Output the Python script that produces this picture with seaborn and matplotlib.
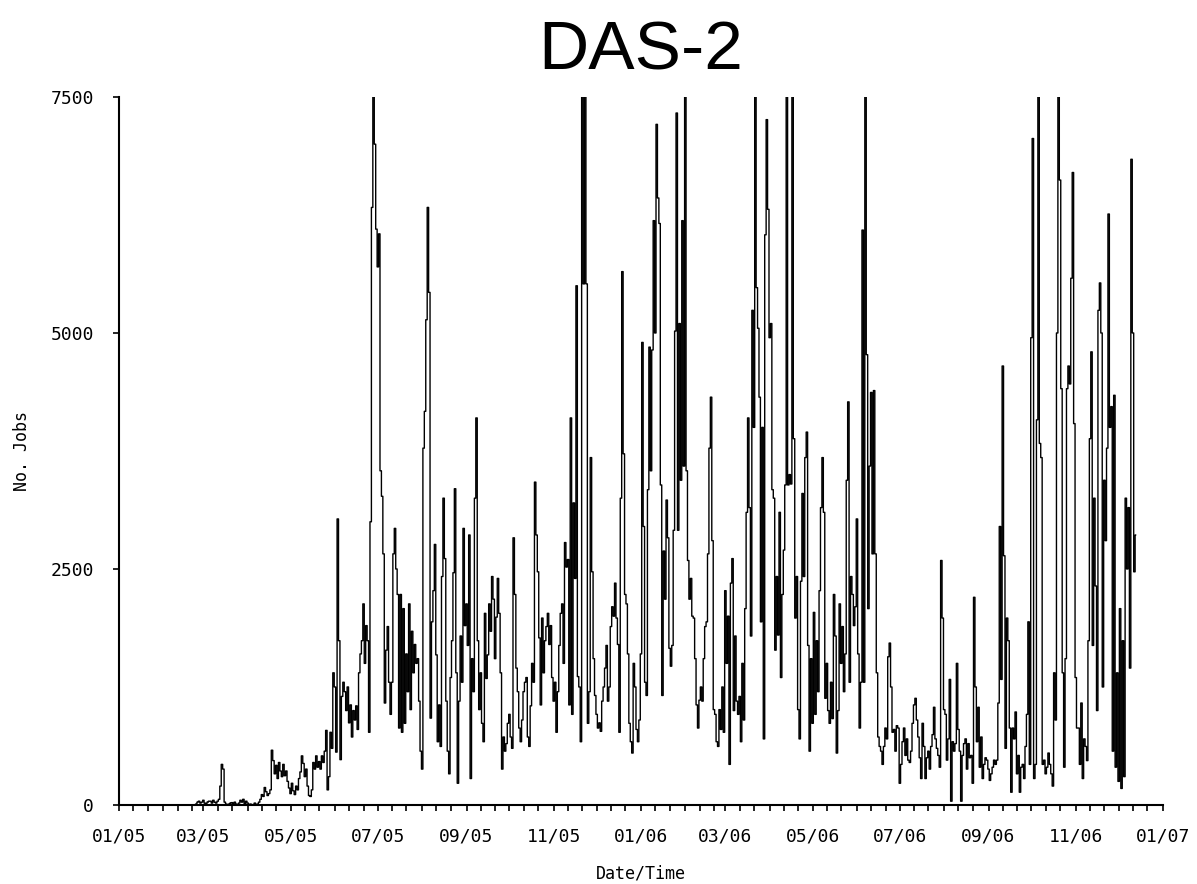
"""
DAS-2 daily job counts, Jan 2005 - Dec 2006.
"""

import numpy as np
import pandas as pd
import seaborn as sns
import matplotlib.pyplot as plt
import matplotlib.dates as mdates

# daily job counts, first day is 2005-02-20
# (values above 7500 are clipped by the axis in the original)
START_DATE = "2005-02-20"

jobs_2005 = [
    0, 0, 0, 0, 10, 30, 40, 20, 30, 50, 20, 10, 30, 40,
    40, 20, 50, 30, 20, 40, 60, 200, 430, 380, 30, 10, 0, 10, 20, 25, 15, 30, 10,
    0, 20, 50, 30, 60, 10, 40, 20, 0, 10, 0, 5, 20, 0, 10, 30, 60, 110, 90, 185, 140, 100,
    120, 160, 580, 470, 330, 420, 280, 450, 360, 300, 430, 310, 360, 250,
    180, 120, 230, 150, 110, 200, 160, 280, 350, 520, 440,
    300, 380, 200, 100, 90, 160, 450, 380, 520, 400, 460, 380, 520, 450,
    570, 790, 160, 300, 770, 600, 1400, 1250, 560, 3030, 1740, 480,
    1150, 1300, 1200, 1000, 1250, 870, 1060, 720, 1000, 900, 1050, 800, 1400, 1600,
    1740, 2130, 1500, 1900, 1740, 770, 3000, 6330, 7800, 7000, 6100, 5700, 6050, 3540,
    3270, 2660, 1080, 1640, 1890, 1300, 960, 1300, 2660, 2930, 2500, 2230, 815,
    2230, 770, 2080, 865, 1600, 1200, 2130, 1010, 1840, 1400, 1700, 1500, 1550, 1100,
    570, 380, 3780, 4170, 5140, 6330, 5430, 920, 1940, 2270, 2760, 1590, 670, 1060, 620,
    2420, 3250, 2610, 1100, 570, 330, 1350, 1740, 2460, 3350, 1400, 230, 1100, 1790, 1300,
    2930, 1900, 2130, 1690, 2860, 280, 1550, 1200, 3250, 4100, 1740, 1010, 1400, 865, 670,
    2030, 1340, 1590, 2130, 1840, 2420, 2180,
    1550, 1990, 2400, 2030, 1400, 380, 720, 570, 650, 865, 960, 720, 600, 2830, 2230, 1450,
    1200, 815, 670, 900, 1200, 1300, 1350, 720, 620, 1050, 1500, 1300, 3420, 2860, 2470,
    1770, 1060, 1980, 1400, 1740, 1890, 2030, 1700, 1900, 1350, 1100, 1300, 770, 1200,
    1690, 2030, 2130, 1500, 2780, 2520, 2600, 1060, 4100, 960, 3200, 2400, 5500, 1360,
    1250, 670, 7800, 5520, 7800, 5520, 865, 1200,
    3680, 2470, 1550, 1160, 960, 815, 870, 780, 1100, 1250, 1450, 1690, 1100, 1250,
    1890, 2100, 2000, 2350, 1980, 1700, 770, 3250, 5650, 3720, 2230, 2130, 1600, 865, 670,
    550, 1500, 1250, 800, 670, 900,
]

jobs_2006 = [
    1600, 4900, 2950, 1300, 1160, 3340, 4850, 3540, 4820, 6190, 5000, 7210, 6430, 6160,
    3390, 1160, 2690, 2180, 3230, 2830, 1660, 1470, 1690, 2910, 5020, 7330,
    2910, 5100, 3440, 6190, 3590,
    7800, 3540, 2590, 2180, 2400, 2000, 1980, 1550, 1060, 815, 1110, 1250, 1100, 1550, 1890,
    1940, 2660, 3780, 4320, 2800, 1010, 960, 670, 620, 1010, 800, 1250, 770, 2270, 1500, 2000,
    430, 2350, 2610, 1000, 1790, 1100, 960, 1150, 670, 1500, 900, 2080, 3100, 4100, 3150, 1790,
    5240, 4000, 7800, 5480, 5050, 4320, 1940, 4000, 700, 6040, 7260, 6310, 4950, 5100, 3340,
    3250, 1640, 2420, 1800,
    3100, 1350, 2230, 2700, 3390, 7800, 3390, 3500, 3400, 7800, 3880, 1980, 2420, 1010,
    700, 2370, 3300, 2420, 3680, 3950, 1690, 570, 1550, 865, 2040, 960, 1740, 1200, 2270, 3150,
    3680, 3100, 1130, 1500, 1000, 865, 1300, 915, 2230, 1790, 550, 1000, 2130, 1500,
    1890, 1200, 1600, 3440, 4270, 1300, 2420, 2230, 1900, 2100, 3030, 1600, 815, 1300,
    6090, 1300, 7800, 4770, 2080, 3590, 4370, 2660, 4390,
    2660, 1400, 720, 620, 570, 430, 620, 815, 700, 1570, 1715, 1250, 770, 800, 570, 840,
    815, 230, 430, 670, 815, 525, 700, 475, 450, 570, 865, 1060, 1130, 900, 720, 500,
    280, 865, 620, 280, 500, 570, 380, 620, 745, 1035, 700, 600, 525, 400, 2590, 1980, 1010,
    960, 475, 700, 1330, 40, 670, 570, 650, 1500, 800, 570, 40, 525, 650, 700, 380, 650, 500,
    525, 230, 2200, 1250, 670, 1035, 400, 720, 280, 430, 500, 475, 380, 260, 330, 400,
    475, 430, 475, 1080, 2950, 1330, 4650, 2640, 600, 1980, 1740, 815, 135, 815, 700,
    985, 330, 525, 135, 400, 430, 280, 620, 960, 1940, 430, 4950, 7060, 280, 430, 4080,
    7800, 3830, 3680, 430, 475, 330, 400, 550, 430, 330, 200, 1400, 900, 5000, 7800,
    6620, 4410, 1400, 400,
    1550, 4410, 4650, 4460, 5580, 6700, 4040, 1350, 815, 815, 430, 1080, 280, 700, 620, 470,
    1740, 3880, 4800, 1690, 3250, 2320, 1000, 5240, 5530, 5000, 1250, 3440, 2800,
    3780, 6260, 4000, 4220, 570, 4340, 400, 1400, 250, 2080, 175, 1740, 300, 3250, 2500,
    3150, 1450, 6840, 5000, 2470, 2860,
]

y_ticks = [0, 2500, 5000, 7500]
x_range = ["2005-01-01", "2007-01-01"]

MONO = ["DejaVu Sans Mono"]

sns.set_style("ticks")
plt.rcParams["font.family"] = MONO
plt.rcParams["text.color"] = "black"
plt.rcParams["axes.labelcolor"] = "black"

jobs = jobs_2005 + jobs_2006
df = pd.DataFrame({
    "date": pd.date_range(START_DATE, periods=len(jobs), freq="D"),
    "jobs": jobs,
})

fig = plt.figure(figsize=(11.97, 8.84), dpi=100)
ax = fig.add_axes([0.0994, 0.0894, 0.8722, 0.8009])

sns.lineplot(data=df, x="date", y="jobs", color="black", linewidth=1.0,
             drawstyle="steps-mid", ax=ax)

ax.set_xlim(pd.Timestamp(x_range[0]), pd.Timestamp(x_range[1]))
ax.set_ylim(y_ticks[0], y_ticks[-1])
ax.set_yticks(y_ticks)

ax.xaxis.set_major_locator(mdates.MonthLocator(bymonth=[1, 3, 5, 7, 9, 11]))
ax.xaxis.set_major_formatter(mdates.DateFormatter("%m/%y"))
ax.xaxis.set_minor_locator(mdates.DayLocator(bymonthday=[1, 11, 21]))

ax.tick_params(axis="both", which="both", direction="out", length=4, width=1.2,
               color="black", labelsize=13, labelcolor="black")
ax.tick_params(axis="x", which="major", pad=12)
ax.tick_params(axis="y", which="major", pad=14)

for side in ["top", "right"]:
    ax.spines[side].set_visible(False)
for side in ["left", "bottom"]:
    ax.spines[side].set_linewidth(1.5)
    ax.spines[side].set_color("black")

ax.set_xlabel("Date/Time", fontsize=12, labelpad=14)
ax.set_ylabel("No. Jobs", fontsize=12, labelpad=14)
ax.set_title("DAS-2", fontsize=50, color="black",
             family=["Liberation Sans", "DejaVu Sans"], pad=20)

fig.savefig("out.png", dpi=100, facecolor="white")
